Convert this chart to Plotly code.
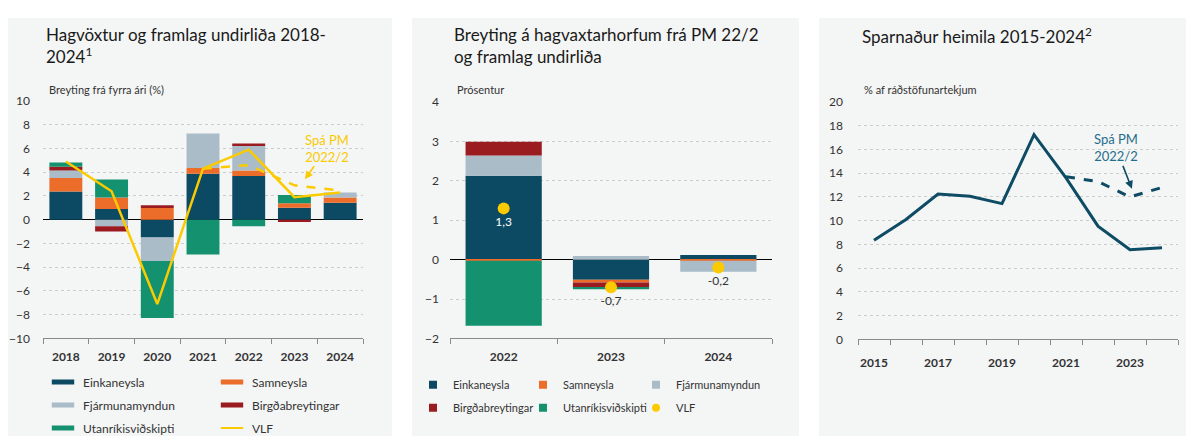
import plotly.graph_objects as go

W, H = 1194, 443
OFF = 8  # default page margin of the html body
FW, FH = W - OFF, H - OFF
FONT = "Lato"
TXT = "#333333"

# ---------------- data ----------------
years_left = ["2018", "2019", "2020", "2021", "2022", "2023", "2024"]
einkaneysla = [2.38, 0.90, -1.49, 3.87, 3.69, 1.00, 1.44]
samneysla = [1.14, 0.97, 0.98, 0.49, 0.46, 0.38, 0.43]
fjarmunamyndun = [0.62, -0.54, -1.98, 2.90, 2.11, 0.00, 0.43]
birgdabreytingar = [0.33, -0.46, 0.24, 0.00, 0.16, -0.20, 0.00]
utanrikisvidskipti = [0.35, 1.52, -4.80, -2.93, -0.54, 0.70, 0.00]
vlf = [4.9, 2.4, -7.1, 4.3, 5.9, 1.9, 2.3]
spa_years = ["2021", "2022", "2023", "2024"]
spa_vlf = [4.3, 4.6, 2.9, 2.45]

years_mid = ["2022", "2023", "2024"]
mid_eink = [2.13, -0.51, 0.12]
mid_sam = [-0.03, -0.07, -0.03]
mid_fjar = [0.51, 0.09, -0.28]
mid_birg = [0.35, -0.12, 0.0]
mid_utan = [-1.65, -0.05, 0.0]
mid_vlf = [1.3, -0.7, -0.2]

years_right = [2015, 2016, 2017, 2018, 2019, 2020, 2021, 2022, 2023, 2024]
sparnadur = [8.35, 10.1, 12.25, 12.06, 11.44, 17.24, 13.6, 9.54, 7.56, 7.72]
spa_years_r = [2021, 2022, 2023, 2024]
spa_sparnadur = [13.7, 13.3, 12.0, 12.8]
right_ticks = [2015, 2017, 2019, 2021, 2023]

names = ["Einkaneysla", "Samneysla", "Fjármunamyndun", "Birgðabreytingar", "Utanríkisviðskipti"]
colors = ["#0c4a64", "#ec6c2a", "#a9bcc8", "#9a1b20", "#14916e"]
YELLOW = "#fbca00"
NAVY = "#0e4b64"

fig = go.Figure()

# ---------------- left panel ----------------
for name, vals, c in zip(names, [einkaneysla, samneysla, fjarmunamyndun, birgdabreytingar, utanrikisvidskipti], colors):
    fig.add_trace(go.Bar(x=years_left, y=vals, marker=dict(color=c, line=dict(width=0)),
                         width=0.72, showlegend=False, xaxis="x", yaxis="y", name=name))
fig.add_trace(go.Scatter(x=years_left, y=vlf, mode="lines", line=dict(color=YELLOW, width=2.5),
                         showlegend=False, xaxis="x", yaxis="y", name="VLF"))
fig.add_trace(go.Scatter(x=spa_years, y=spa_vlf, mode="lines", line=dict(color=YELLOW, width=2.5, dash="dash"),
                         showlegend=False, xaxis="x", yaxis="y"))

left_cols = [
    ("legend", [("Einkaneysla", colors[0]), ("Fjármunamyndun", colors[2]), ("Utanríkisviðskipti", colors[4])]),
    ("legend2", [("Samneysla", colors[1]), ("Birgðabreytingar", colors[3])]),
]
for lg, items in left_cols:
    for nm, c in items:
        fig.add_trace(go.Scatter(x=[None], y=[None], mode="markers", name=nm, legend=lg, legendgroup=nm,
                                 marker=dict(symbol="line-ew", size=16, line=dict(width=6, color=c)),
                                 xaxis="x", yaxis="y"))
fig.add_trace(go.Scatter(x=[None], y=[None], mode="markers", name="VLF", legend="legend2", legendgroup="VLF",
                         marker=dict(symbol="line-ew", size=16, line=dict(width=2, color=YELLOW)),
                         xaxis="x", yaxis="y"))

# ---------------- middle panel ----------------
for name, vals, c in zip(names, [mid_eink, mid_sam, mid_fjar, mid_birg, mid_utan], colors):
    fig.add_trace(go.Bar(x=years_mid, y=vals, marker=dict(color=c, line=dict(width=0)),
                         width=0.71, showlegend=False, xaxis="x2", yaxis="y2", name=name))
mid_labels = [f"{v:.1f}".replace(".", ",") for v in mid_vlf]
fig.add_trace(go.Scatter(x=years_mid, y=mid_vlf, mode="markers+text", text=mid_labels,
                         textposition="bottom center",
                         textfont=dict(family=FONT, size=12, color=["white", TXT, TXT]),
                         marker=dict(color=YELLOW, size=12), showlegend=False,
                         xaxis="x2", yaxis="y2", name="VLF"))
mid_cols = [
    ("legend3", [("Einkaneysla", colors[0], "square"), ("Birgðabreytingar", colors[3], "square")]),
    ("legend4", [("Samneysla", colors[1], "square"), ("Utanríkisviðskipti", colors[4], "square")]),
    ("legend5", [("Fjármunamyndun", colors[2], "square"), ("VLF", YELLOW, "circle")]),
]
for lg, items in mid_cols:
    for nm, c, sym in items:
        fig.add_trace(go.Scatter(x=[None], y=[None], mode="markers", name=nm, legend=lg, legendgroup=lg + nm,
                                 marker=dict(symbol=sym, size=8, color=c),
                                 xaxis="x2", yaxis="y2"))

# ---------------- right panel ----------------
fig.add_trace(go.Scatter(x=years_right, y=sparnadur, mode="lines", line=dict(color=NAVY, width=3),
                         showlegend=False, xaxis="x3", yaxis="y3"))
fig.add_trace(go.Scatter(x=spa_years_r, y=spa_sparnadur, mode="lines", line=dict(color=NAVY, width=3, dash="dash"),
                         showlegend=False, xaxis="x3", yaxis="y3"))

# ---------------- layout ----------------
def px_x(p):
    return (p - OFF) / FW

def px_y(p):
    return 1 - (p - OFF) / FH

tickfont = dict(family=FONT, size=12, color=TXT)
grid = dict(showgrid=True, gridcolor="#cccccc", griddash="dot", gridwidth=1)
xcommon = dict(showline=True, linecolor="#8a8a8a", linewidth=1, ticks="outside", ticklen=5,
               tickcolor="#8a8a8a", tickfont=dict(family=FONT, size=12, color=TXT, weight="bold"),
               showgrid=False, zeroline=False, ticklabelstandoff=7)

fig.update_layout(
    width=FW, height=FH, margin=dict(l=0, r=0, t=0, b=0),
    paper_bgcolor="white", plot_bgcolor="rgba(0,0,0,0)",
    barmode="relative",
    font=dict(family=FONT, size=12, color=TXT),
    xaxis=dict(domain=[px_x(43), px_x(363)], type="category", tickson="boundaries", anchor="y", **xcommon),
    yaxis=dict(domain=[px_y(342), px_y(96)], range=[-10, 10], dtick=2, anchor="x",
               zeroline=True, zerolinecolor="black", zerolinewidth=1.3, showline=False,
               tickfont=tickfont, ticklabelstandoff=12, **grid),
    xaxis2=dict(domain=[px_x(450), px_x(772)], type="category", tickson="boundaries", anchor="y2", **xcommon),
    yaxis2=dict(domain=[px_y(342), px_y(97)], range=[-2, 4], dtick=1, anchor="x2",
                zeroline=True, zerolinecolor="black", zerolinewidth=1.3, showline=False,
                tickfont=tickfont, ticklabelstandoff=10, **grid),
    xaxis3=dict(domain=[px_x(858), px_x(1178)], anchor="y3", range=[2014.5, 2024.5],
                tickvals=right_ticks, ticktext=[str(t) for t in right_ticks],
                showline=True, linecolor="#8a8a8a", linewidth=1, ticks="", ticklabelstandoff=12,
                tickfont=dict(family=FONT, size=12, color=TXT, weight="bold"),
                minor=dict(tickvals=[2014.5 + i for i in range(11)], ticks="outside", ticklen=5,
                           tickcolor="#8a8a8a", showgrid=False),
                showgrid=False, zeroline=False),
    yaxis3=dict(domain=[px_y(343), px_y(97)], range=[0, 20], dtick=2, anchor="x3",
                zeroline=False, showline=False, tickfont=tickfont, ticklabelstandoff=14, **grid),
)

legend_common = dict(bgcolor="rgba(0,0,0,0)", borderwidth=0, orientation="v", xanchor="left", yanchor="top",
                     itemwidth=30, tracegroupgap=4, itemclick=False, itemdoubleclick=False)
lf12 = dict(family=FONT, size=12, color=TXT)
lf11 = dict(family=FONT, size=11, color=TXT)
fig.update_layout(
    legend=dict(x=px_x(43), y=px_y(372), font=lf12, **legend_common),
    legend2=dict(x=px_x(212), y=px_y(372), font=lf12, **legend_common),
    legend3=dict(x=px_x(413), y=px_y(375), font=lf11, **legend_common),
    legend4=dict(x=px_x(523), y=px_y(375), font=lf11, **legend_common),
    legend5=dict(x=px_x(636), y=px_y(375), font=lf11, **legend_common),
)

# panel backgrounds
for x0, x1 in [(OFF, 392), (412, 799), (819, W)]:
    fig.add_shape(type="rect", xref="paper", yref="paper", x0=px_x(x0), x1=px_x(x1), y0=0, y1=px_y(10),
                  fillcolor="#f4f5f5", line=dict(width=0), layer="below")

ann = []
title_font = dict(family=FONT, size=17, color="#1a1a1a")
ann.append(dict(x=px_x(44), y=px_y(14), xref="paper", yref="paper", xanchor="left", yanchor="top", align="left",
                text="Hagvöxtur og framlag undirliða 2018-<br>2024<sup>1</sup>", showarrow=False, font=title_font))
ann.append(dict(x=px_x(452), y=px_y(14), xref="paper", yref="paper", xanchor="left", yanchor="top", align="left",
                text="Breyting á hagvaxtarhorfum frá PM 22/2<br>og framlag undirliða", showarrow=False, font=title_font))
ann.append(dict(x=px_x(860), y=px_y(14), xref="paper", yref="paper", xanchor="left", yanchor="top", align="left",
                text="Sparnaður heimila 2015-2024<sup>2</sup>", showarrow=False, font=title_font))
sub_font = dict(family=FONT, size=11, color=TXT)
for x, t in [(47, "Breyting frá fyrra ári (%)"), (455, "Prósentur"), (862, "% af ráðstöfunartekjum")]:
    ann.append(dict(x=px_x(x), y=px_y(84), xref="paper", yref="paper", xanchor="left", yanchor="middle",
                    text=t, showarrow=False, font=sub_font))

# forecast annotations (text with arrow pointing at the dashed line)
ann.append(dict(x=5.23, y=3.41, xref="x", yref="y", text="Spá PM<br>2022/2", showarrow=True,
                arrowhead=2, arrowsize=1, arrowwidth=1.6, arrowcolor=YELLOW, ax=22, ay=-31,
                font=dict(family=FONT, size=13, color=YELLOW)))
ann.append(dict(x=2023.06, y=12.68, xref="x3", yref="y3", text="Spá PM<br>2022/2", showarrow=True,
                arrowhead=2, arrowsize=1, arrowwidth=1.6, arrowcolor=NAVY, ax=-16, ay=-41,
                font=dict(family=FONT, size=13, color="#1f6e8c")))
fig.update_layout(annotations=ann)

fig.write_html("out.html")
